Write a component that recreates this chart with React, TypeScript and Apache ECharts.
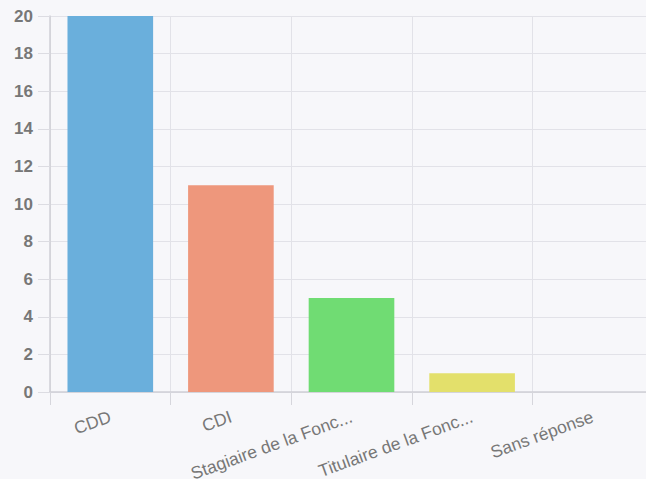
import React, { useEffect, useRef } from "react";
import * as echarts from "echarts";

const categories = ["CDD", "CDI", "Stagiaire de la Fonc...", "Titulaire de la Fonc...", "Sans réponse"];
const values = [20, 11, 5, 1, 0];
const barColors = ["#6aafdc", "#ee977c", "#70dc73", "#e3e06b", "#b0a0e0"];

export default function App() {
  const ref = useRef<HTMLDivElement>(null);
  useEffect(() => {
    if (!ref.current) return;
    const chart = echarts.init(ref.current, undefined, { renderer: "svg" });
    chart.setOption({
      animation: false,
      backgroundColor: "#f7f7fa",
      grid: { left: 50, top: 16, bottom: 87, right: -7, outerBoundsMode: "none", containLabel: false },
      xAxis: {
        type: "category",
        data: categories,
        axisLine: { lineStyle: { color: "#cfcfd6", width: 1.5 } },
        axisTick: { show: true, length: 13, lineStyle: { color: "#d6d6dc" } },
        splitLine: { show: true, lineStyle: { color: "#e2e2e8" } },
        axisLabel: {
          rotate: 20,
          interval: 0,
          color: "#777",
          fontSize: 17.5,
          fontFamily: "Liberation Sans, Arial, sans-serif",
          margin: 24,
        },
      },
      yAxis: {
        type: "value",
        min: 0,
        max: 20,
        interval: 2,
        axisLine: { show: true, lineStyle: { color: "#cfcfd6", width: 1.5 } },
        axisTick: { show: true, length: 12, lineStyle: { color: "#dcdce2" } },
        splitLine: { show: true, lineStyle: { color: "#e2e2e8" } },
        axisLabel: {
          color: "#777",
          fontSize: 17,
          fontWeight: "bold",
          fontFamily: "Liberation Sans, Arial, sans-serif",
          margin: 17,
        },
      },
      series: [
        {
          type: "bar",
          barWidth: "71%",
          data: values.map((v, i) => ({ value: v, itemStyle: { color: barColors[i] } })),
        },
      ],
    });
    return () => chart.dispose();
  }, []);
  return <div ref={ref} style={{ position: "fixed", left: 0, top: 0, width: 646, height: 479 }} />;
}
